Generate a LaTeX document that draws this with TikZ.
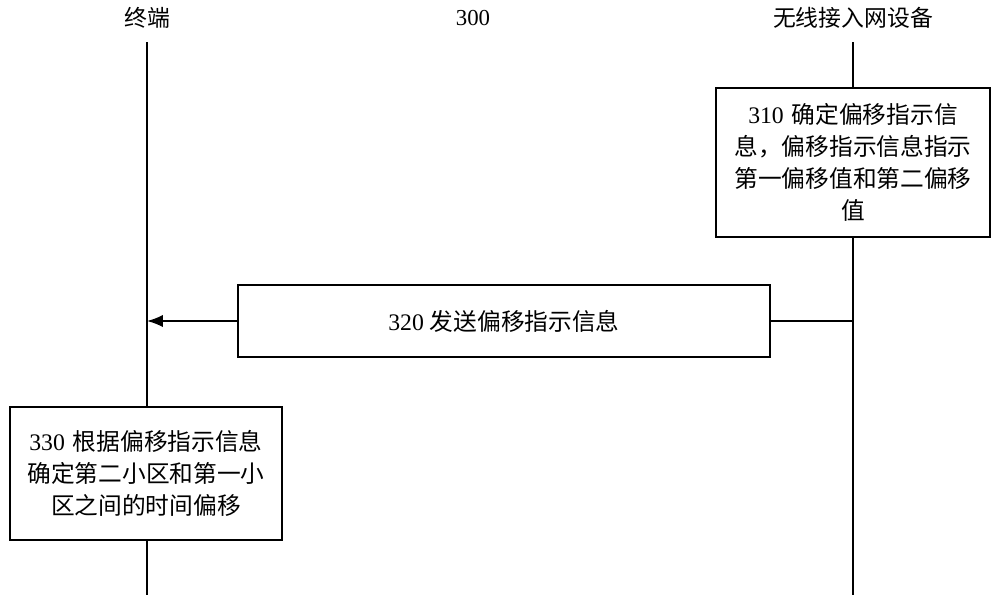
\documentclass[tikz,border=0pt]{standalone}
\usepackage{fontspec}
\setmainfont{Liberation Serif}
\newfontfamily\cjk{Noto Sans CJK SC}
\usetikzlibrary{arrows.meta}
\begin{document}
\begin{tikzpicture}[x=0.02cm,y=-0.02cm,
  lbl/.style={font=\fontsize{13pt}{18pt}\selectfont},
  stepbox/.style={draw,line width=1.2pt,align=center,font=\fontsize{13.5pt}{18.2pt}\selectfont,inner sep=0pt},
  life/.style={line width=1pt}]
\useasboundingbox (0,0) rectangle (1000,602);
\node[lbl] (t) at (147,18) {\cjk 终端};
\node[lbl] (n) at (473,18) {300};
\node[lbl] (r) at (853,18) {\cjk 无线接入网设备};
\coordinate (tb) at (147,595);
\coordinate (rb) at (853,595);
\draw[life] (147,42) -- (tb);
\draw[life] (853,42) -- (rb);
\node[stepbox,fill=white,minimum width=5.48cm,text width=5.1cm,minimum height=2.98cm] (b310) at (853,162.5)
 {310 {\cjk 确定偏移指示信}\\{\cjk 息，偏移指示信息指示}\\{\cjk 第一偏移值和第二偏移}\\{\cjk 值}};
\node[stepbox,fill=white,minimum width=10.64cm,minimum height=1.44cm] (b320) at (504,321) {320 {\cjk 发送偏移指示信息}};
\coordinate (a1) at (853,321);
\coordinate (a2) at (147,321);
\draw[life] (a1) -- (b320.east);
\draw[life,-{Latex[length=9pt,width=7pt]}] (b320.west) -- (a2);
\node[stepbox,fill=white,minimum width=5.44cm,text width=5.2cm,minimum height=2.66cm] (b330) at (146,473.5)
 {330 {\cjk 根据偏移指示信息}\\{\cjk 确定第二小区和第一小}\\{\cjk 区之间的时间偏移}};
\end{tikzpicture}
\end{document}
